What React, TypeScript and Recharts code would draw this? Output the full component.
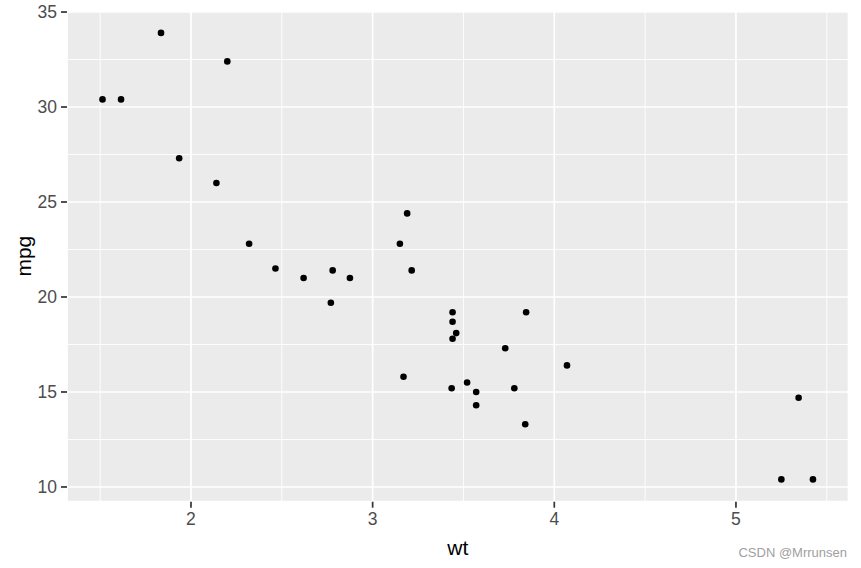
import React from 'react';
import { ScatterChart, Scatter, XAxis, YAxis, CartesianGrid, ReferenceLine } from 'recharts';

// mtcars: weight (1000 lbs) vs miles per gallon
const wt = [2.62, 2.875, 2.32, 3.215, 3.44, 3.46, 3.57, 3.19, 3.15, 3.44, 3.44, 4.07, 3.73, 3.78, 5.25, 5.424,
  5.345, 2.2, 1.615, 1.835, 2.465, 3.52, 3.435, 3.84, 3.845, 1.935, 2.14, 1.513, 3.17, 2.77, 3.57, 2.78];
const mpg = [21.0, 21.0, 22.8, 21.4, 18.7, 18.1, 14.3, 24.4, 22.8, 19.2, 17.8, 16.4, 17.3, 15.2, 10.4, 10.4,
  14.7, 32.4, 30.4, 33.9, 21.5, 15.5, 15.2, 13.3, 19.2, 27.3, 26.0, 30.4, 15.8, 19.7, 15.0, 21.4];

const xTicks = [2, 3, 4, 5];
const yTicks = [10, 15, 20, 25, 30, 35];
const xMinor = [1.5, 2.5, 3.5, 4.5, 5.5];
const yMinor = [12.5, 17.5, 22.5, 27.5, 32.5];

const FONT = "Arial, 'Liberation Sans', sans-serif";

const data = wt.map((w, i) => ({ wt: w, mpg: mpg[i] }));

const Dot = (props: any) => <circle cx={props.cx} cy={props.cy} r={3.3} fill="#000" />;

const XTitle = (props: any) => {
  const vb = props.viewBox;
  return (
    <text x={vb.x + vb.width / 2} y={vb.y + 53} textAnchor="middle" fontSize={21} fontFamily={FONT} fill="#000">
      wt
    </text>
  );
};

const YTitle = (props: any) => {
  const vb = props.viewBox;
  const x = vb.x + 31;
  const y = vb.y + vb.height / 2;
  return (
    <text x={x} y={y} transform={`rotate(-90, ${x}, ${y})`} textAnchor="middle" fontSize={21} fontFamily={FONT} fill="#000">
      mpg
    </text>
  );
};

export default function App() {
  return (
    <div style={{ position: 'absolute', left: 0, top: 0, width: 861, height: 568, background: '#fff' }}>
      <ScatterChart width={861} height={568} margin={{ top: 10.6, right: 12.5, left: 0, bottom: 0 }}>
        <CartesianGrid fill="#EBEBEB" stroke="#FFFFFF" strokeWidth={1.7} />
        {xMinor.map(v => (
          <ReferenceLine key={`xm${v}`} x={v} stroke="#FFFFFF" strokeWidth={0.9} />
        ))}
        {yMinor.map(v => (
          <ReferenceLine key={`ym${v}`} y={v} stroke="#FFFFFF" strokeWidth={0.9} />
        ))}
        <XAxis
          type="number"
          dataKey="wt"
          domain={[1.3175, 5.6196]}
          ticks={xTicks}
          allowDataOverflow
          height={66.3}
          axisLine={false}
          tickSize={6}
          tickMargin={5}
          tickLine={{ stroke: '#333333', strokeWidth: 1.7 }}
          tick={{ fill: '#4D4D4D', fontSize: 17.5, fontFamily: FONT }}
          label={<XTitle />}
        />
        <YAxis
          type="number"
          dataKey="mpg"
          domain={[9.225, 35.075]}
          ticks={yTicks}
          allowDataOverflow
          width={67}
          axisLine={false}
          tickSize={6}
          tickMargin={4}
          tickLine={{ stroke: '#333333', strokeWidth: 1.7 }}
          tick={{ fill: '#4D4D4D', fontSize: 17.5, fontFamily: FONT }}
          label={<YTitle />}
        />
        <Scatter data={data} shape={<Dot />} isAnimationActive={false} />
      </ScatterChart>
      <span
        style={{
          position: 'absolute',
          right: 14,
          top: 545,
          fontSize: 13,
          fontFamily: FONT,
          color: '#A0A0A0',
        }}
      >
        CSDN @Mrrunsen
      </span>
    </div>
  );
}
